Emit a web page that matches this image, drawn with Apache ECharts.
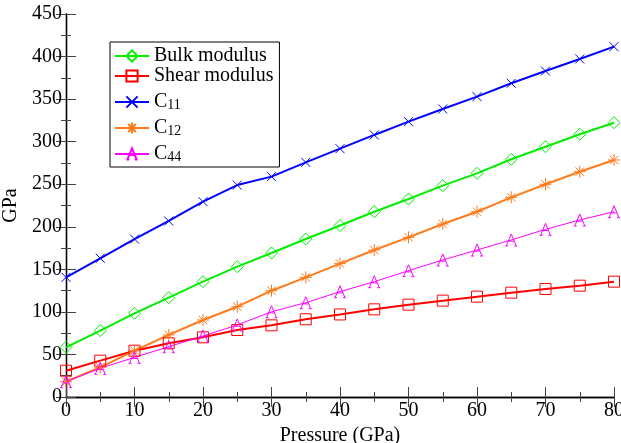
<!DOCTYPE html>
<html>
<head>
<meta charset="utf-8">
<script src="https://cdn.jsdelivr.net/npm/echarts@6/dist/echarts.min.js"></script>
<style>
html,body{margin:0;padding:0;background:#fff;}
#chart{width:621px;height:443px;}
</style>
</head>
<body>
<div id="chart"></div>
<script>
// Data
var pressure = [0, 5, 10, 15, 20, 25, 30, 35, 40, 45, 50, 55, 60, 65, 70, 75, 80];
var bulkModulus = [58.4, 78, 98.3, 116.7, 135.5, 153.1, 169.2, 185.6, 201.5, 217.7, 232.6, 248.3, 262.8, 279.3, 294.1, 308.7, 322.3];
var shearModulus = [30.9, 42.7, 54.4, 63.1, 70.1, 78.7, 84.2, 91.3, 97, 103, 108.5, 113.2, 117.9, 122.6, 126.9, 130.8, 135.5];
var c11 = [140.6, 163, 185.6, 206.8, 229.5, 249, 258.9, 275.7, 291.8, 307.9, 323.5, 338.4, 352.9, 368.6, 383, 397.2, 411.6];
var c12 = [18, 34.9, 54.4, 72.9, 90.5, 106.1, 124.9, 140.6, 156.7, 172.7, 187.6, 203.3, 217.7, 234.6, 249.9, 264.7, 278.5];
var c44 = [18, 33.7, 46.6, 59.1, 71.7, 84.6, 100.2, 110.8, 123.7, 135.5, 148.4, 161, 172.7, 184.5, 197, 208, 217.7];
var seriesNames = ['Bulk modulus', 'Shear modulus', 'C11', 'C12', 'C44'];
var xTickMin = 0, xTickMax = 80, xTickStep = 10;
var yTickMin = 0, yTickMax = 450, yTickStep = 50;

function pairs(ys) { return pressure.map(function (x, i) { return [x, ys[i]]; }); }

var FONT = '"Liberation Serif", "Times New Roman", serif';
var colGreen = '#00ee00', colRed = '#ff0000', colBlue = '#0000ff', colOrange = '#ff7a1a', colMag = '#ff00ff';

function mk(name, data, color, symbol, size, lw) {
  return {
    name: name, type: 'line', data: pairs(data),
    symbol: symbol, symbolSize: size, showSymbol: true,
    lineStyle: { color: color, width: lw },
    itemStyle: { color: 'transparent', borderColor: color, borderWidth: 1 },
    emphasis: { disabled: true },
    animation: false
  };
}

var axisCommon = {
  type: 'value',
  axisLine: { show: true, lineStyle: { color: '#000', width: 1.3 } },
  axisTick: { show: true, inside: true, length: 10, lineStyle: { color: '#444', width: 1 } },
  minorTick: { show: true, splitNumber: 2, length: 5, lineStyle: { color: '#444', width: 1 } },
  splitLine: { show: false },
  minorSplitLine: { show: false }
};

function ax(extra) { return Object.assign({}, JSON.parse(JSON.stringify(axisCommon)), extra); }

var option = {
  backgroundColor: '#fff',
  animation: false,
  grid: { left: 66, right: 7, top: 14, bottom: 46, containLabel: false, outerBoundsMode: 'none' },
  legend: {
    orient: 'vertical', left: 110, top: 42,
    padding: [4, 6, 3, 4], itemGap: 0, itemWidth: 34, itemHeight: 14,
    backgroundColor: '#fff', borderColor: '#000', borderWidth: 1,
    data: seriesNames,
    formatter: function (n) {
      if (n.charAt(0) === 'C') return '{c|C}{s|' + n.slice(1) + '}';
      return '{t|' + n + '}';
    },
    textStyle: {
      fontFamily: FONT, fontSize: 20, color: '#000',
      rich: {
        t: { fontFamily: FONT, fontSize: 20, lineHeight: 20, color: '#000' },
        c: { fontFamily: FONT, fontSize: 20, lineHeight: 20, verticalAlign: 'top', color: '#000' },
        s: { fontFamily: FONT, fontSize: 14, lineHeight: 14, padding: [12, 0, 0, 0], verticalAlign: 'bottom', color: '#000' }
      }
    }
  },
  xAxis: [
    ax({
      min: xTickMin, max: xTickMax, interval: xTickStep, position: 'bottom',
      name: 'Pressure (GPa)', nameLocation: 'middle', nameGap: 25,
      nameTextStyle: { fontFamily: FONT, fontSize: 20, color: '#000' },
      axisLabel: { fontFamily: FONT, fontSize: 20, color: '#000', margin: 4 }
    }),
    ax({ min: xTickMin, max: xTickMax, interval: xTickStep, position: 'top', axisLabel: { show: false } })
  ],
  yAxis: [
    ax({
      min: yTickMin, max: yTickMax, interval: yTickStep, position: 'left',
      name: 'GPa', nameLocation: 'middle', nameGap: 41,
      nameTextStyle: { fontFamily: FONT, fontSize: 20, color: '#000' },
      axisLabel: { fontFamily: FONT, fontSize: 20, color: '#000', margin: 4 }
    }),
    ax({ min: yTickMin, max: yTickMax, interval: yTickStep, position: 'right', axisLabel: { show: false } })
  ],
  series: [
    mk(seriesNames[0], bulkModulus, colGreen, 'diamond', 12, 2),
    mk(seriesNames[1], shearModulus, colRed, 'rect', 11, 2),
    mk(seriesNames[2], c11, colBlue, 'path://M0,0L10,10M10,0L0,10', 9, 2),
    mk(seriesNames[3], c12, colOrange, 'path://M5,0L5,10M0,5L10,5M1.5,1.5L8.5,8.5M8.5,1.5L1.5,8.5', 12, 2),
    mk(seriesNames[4], c44, colMag, 'path://M0,10L5,0L10,10M2.2,6L7.8,6M-1,10L2,10M8,10L11,10', 12, 1)
  ]
};

var chart = echarts.init(document.getElementById('chart'), null, { renderer: 'canvas' });
chart.setOption(option);
</script>
</body>
</html>
